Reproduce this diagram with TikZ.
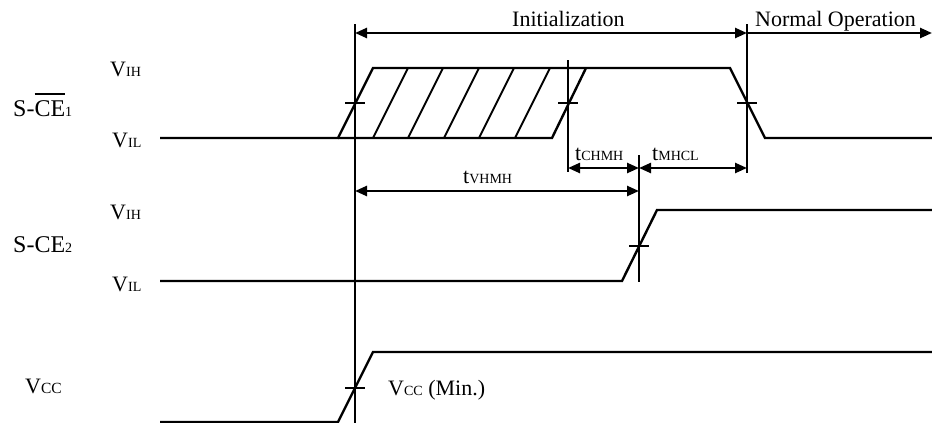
\documentclass[tikz,border=0pt]{standalone}
\usepackage{fontspec}
\setmainfont{Liberation Serif}
\usetikzlibrary{arrows.meta}
\newcommand\sm[1]{{\fontsize{14}{15}\selectfont #1}}
\newcommand\ovl[1]{\setbox0\hbox{#1}\rlap{\rule[\dimexpr\ht0+5pt\relax]{\wd0}{1.8pt}}\box0}
\begin{document}
\begin{tikzpicture}[x=1pt,y=-1pt,
  sig/.style={line width=2.4pt, line join=miter},
  refline/.style={line width=1.7pt},
  tickmark/.style={line width=1.7pt},
  hatch/.style={line width=1.9pt},
  dimline/.style={line width=2.4pt, {Triangle[length=12pt,width=10pt]}-{Triangle[length=12pt,width=10pt]}},
  oneway/.style={line width=2.4pt, -{Triangle[length=12pt,width=10pt]}},
  lbl/.style={anchor=base west, inner sep=0pt, font=\fontsize{22}{24}\selectfont},
  biglbl/.style={anchor=base west, inner sep=0pt, font=\fontsize{24}{26}\selectfont}]
\useasboundingbox (0,0) rectangle (932,423);

% reference verticals
\coordinate (v0t) at (355,24);  \coordinate (v0b) at (355,423);
\coordinate (v1t) at (568,60);  \coordinate (v1b) at (568,172);
\coordinate (v2t) at (639,155); \coordinate (v2b) at (639,282);
\coordinate (v3t) at (747,24);  \coordinate (v3b) at (747,173);
\draw[refline] (v0t) -- (v0b);
\draw[refline] (v1t) -- (v1b);
\draw[refline] (v2t) -- (v2b);
\draw[refline] (v3t) -- (v3b);

% dimension arrows
\coordinate (iniL) at (355,33); \coordinate (iniR) at (747,33); \coordinate (norR) at (932,33);
\draw[dimline] (iniL) -- (iniR);
\draw[oneway] (iniR) -- (norR);
\coordinate (chL) at (568,168); \coordinate (chM) at (639,168); \coordinate (chR) at (747,168);
\draw[dimline] (chL) -- (chM);
\draw[dimline] (chM) -- (chR);
\coordinate (vhL) at (355,191); \coordinate (vhR) at (639,191);
\draw[dimline] (vhL) -- (vhR);

% S-CE1 waveform
\coordinate (a0) at (160,138); \coordinate (a1) at (338,138); \coordinate (a2) at (373,68);
\coordinate (a3) at (730,68);  \coordinate (a4) at (765,138); \coordinate (a5) at (932,138);
\draw[sig] (a0) -- (a1) -- (a2) -- (a3) -- (a4) -- (a5);
\coordinate (h0) at (552,138); \coordinate (h1) at (586,68);
\draw[sig] (a1) -- (h0) -- (h1);
\foreach \x in {373,408,444,479,515} \draw[hatch] (\x,138) -- (\x+35,68);

% S-CE2 waveform
\coordinate (b0) at (160,281); \coordinate (b1) at (622,281); \coordinate (b2) at (657,210); \coordinate (b3) at (932,210);
\draw[sig] (b0) -- (b1) -- (b2) -- (b3);

% VCC waveform
\coordinate (c0) at (160,422); \coordinate (c1) at (338,422); \coordinate (c2) at (373,352); \coordinate (c3) at (932,352);
\draw[sig] (c0) -- (c1) -- (c2) -- (c3);

% tick marks
\foreach \x/\y in {355/103,568/103,747/103,639/246,355/388}
  \draw[tickmark] (\x-10,\y) -- (\x+10,\y);

% labels
\node[biglbl] (lce1) at (13,116) {S-\ovl{CE}\sm{1}};
\node[lbl] (vih1) at (110,76) {V\sm{IH}};
\node[lbl] (vil1) at (112,147) {V\sm{IL}};
\node[biglbl] (lce2) at (13,252) {S-CE\sm{2}};
\node[lbl] (vih2) at (110,219) {V\sm{IH}};
\node[lbl] (vil2) at (112,291) {V\sm{IL}};
\node[lbl] (lvcc) at (25,393) {V{\fontsize{15.5}{17}\selectfont CC}};
\node[lbl] (vmin) at (388,395) {V\sm{CC} (Min.)};
\node[lbl] (tini) at (512,27) {Initialization};
\node[lbl] (tnor) at (755,27) {Normal Operation};
\node[lbl] (tvhmh) at (463,183) {t\sm{VHMH}};
\node[lbl] (tchmh) at (575,160) {t\sm{CHMH}};
\node[lbl] (tmhcl) at (652,160) {t\sm{MHCL}};
\end{tikzpicture}
\end{document}
